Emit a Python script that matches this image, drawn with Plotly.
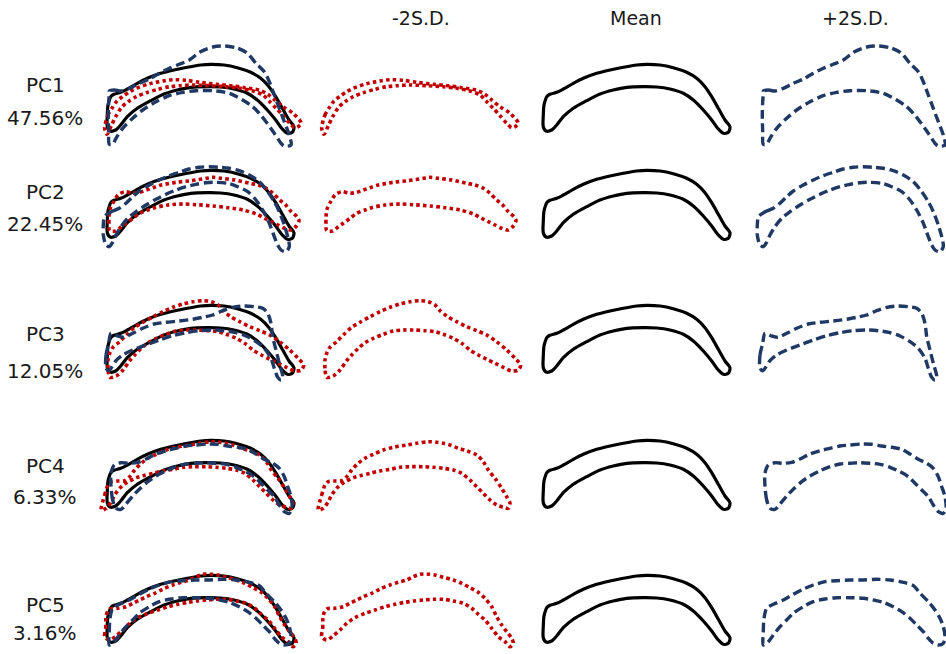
import plotly.graph_objects as go

# ---------------- data ----------------
ROW_LABELS = ["PC1", "PC2", "PC3", "PC4", "PC5"]
VARIANCE = ["47.56%", "22.45%", "12.05%", "6.33%", "3.16%"]
COL_TITLES = ["-2S.D.", "Mean", "+2S.D."]

# mean outline (local px units of a cell)
MEAN_X = [10.7, 14, 20.7, 27.3, 37.3, 47.3, 60.7, 74, 87.3, 100.7, 110.7, 124, 137.3, 150.7, 160.7, 169, 175.7, 182.3, 189, 194, 192.3,
          187.3, 182.3, 175.7, 167.3, 157.3, 147.3, 134, 120.7, 107.3, 90.7, 77.3, 64, 50.7, 37.3, 27.3, 20.7, 15.7, 10, 7.3, 7.3, 8, 10]
MEAN_Y = [41.7, 39.3, 37.3, 34, 28.3, 23.3, 18.3, 15, 12.3, 10, 9.3, 10, 12.7, 17.3, 23.3, 31.7, 41.7, 53.3, 65, 71.7, 77.3,
          78.3, 74, 65, 55, 45, 38.3, 34, 32, 31.7, 32.3, 35, 39, 45.7, 53.3, 61.7, 70, 75, 76, 71.7, 60, 50, 43.3]

PC1_MINUS_X = [4.7, 8, 12.3, 17, 23, 29.7, 36.3, 49.7, 64.7, 73, 86.3, 99.7, 116.3, 131.3, 144.7, 159.7, 168, 174.7, 183, 193, 201.3, 198,
               194.7, 189.7, 183, 176.3, 169.7, 163, 153, 139.7, 126.3, 109.7, 93, 80.3, 69.7, 58, 46.3, 36.3, 28, 21.3, 15.7, 11.3, 7]
PC1_MINUS_Y = [73.3, 60, 52.7, 46, 41.3, 36.7, 33.3, 28.7, 25.7, 24.7, 25.3, 27.3, 29.3, 30.7, 32.7, 35.3, 39.3, 45, 51.7, 58.3, 68.3, 71.7,
               72.7, 68.3, 60.7, 53.3, 46.7, 40, 36, 33.3, 31.7, 30.7, 30, 30.7, 31.7, 34.3, 37.7, 41.7, 46.7, 52.7, 61.7, 70.7, 79.3]
PC1_PLUS_X = [9.3, 14.3, 21, 29.3, 39.3, 49.3, 59.3, 69.3, 79.3, 89.3, 100, 113, 125, 137, 147, 156, 164.3, 169.3, 174.3, 179.3, 184.3, 189.3, 191,
              184, 181, 174.3, 166, 159.3, 152.7, 142.7, 129.3, 112.7, 96, 82.7, 69.3, 56, 42.7, 32.7, 22.7, 16, 12.7, 9.3, 8.7, 8.3, 8.7, 9.3]
PC1_PLUS_Y = [36, 35, 36, 33.3, 28.3, 24, 18.3, 13.3, 9.3, 5, -3, -8, -9, -7, -2, 8.3, 16.7, 26.7, 40, 53.3, 66.7, 80, 90,
              91, 88.3, 78.3, 66.7, 58.3, 51.7, 45, 38.3, 35.7, 35.7, 37.3, 40.7, 46.7, 55, 63.3, 73.3, 83.3, 89.3, 89.3, 76.7, 60, 46.7, 38.3]

PC2_MINUS_X = [9.7, 9, 9, 10.3, 13.7, 18, 24.7, 33, 39.7, 46.3, 53, 61.3, 76.3, 91.3, 106.3, 113, 121.3, 134.7, 149.7, 158, 166.3, 173, 179.7, 185.7, 191.3, 197, 199, 196.3, 191.3,
               184.7, 178, 171.3, 164.7, 156.3, 143, 128, 113, 96.3, 83, 68, 54.7, 48, 39.7, 33, 26.3, 21.3, 15.7]
PC2_MINUS_Y = [69.7, 62.3, 55.7, 47.3, 40.7, 34, 30.7, 32.3, 31.3, 29, 26.7, 24, 21.3, 19.7, 17.3, 16.3, 17.3, 19, 22.3, 24, 27.3, 32.3, 39, 44, 50.7, 55.7, 59.7, 65, 69,
               67.3, 64, 60.7, 57.3, 53, 49, 46.7, 45, 43.7, 43, 44, 46.7, 49, 52.3, 57.3, 62.3, 65.7, 70]
PC2_PLUS_X = [6, 12.7, 19.3, 26, 32.7, 39.3, 49.3, 59.3, 69.3, 79.3, 89.3, 99.3, 109.3, 119.3, 129.3, 139.3, 149.3, 159.3, 167.7, 174.3, 179.3, 184.3, 187.7, 189.3, 186, 181,
              177.7, 174.3, 169.3, 162.7, 156, 147.7, 137.7, 127.7, 116, 106, 96, 86, 76, 66, 56, 46, 36, 27.7, 21, 16, 12.7, 9.3, 6, 3.3, 3.3, 4.3]
PC2_PLUS_Y = [54, 50, 47.3, 42.3, 35.7, 30, 24, 19, 14.7, 11.3, 8, 6.3, 5.7, 6.3, 7.3, 9.7, 14, 20.7, 30.7, 40.7, 50.7, 64, 75.7, 85.7, 90.7, 89,
              84, 75.7, 62.3, 49, 39, 30.7, 25.7, 22.3, 21.3, 21.7, 23.3, 25.7, 29, 33.3, 38.3, 44, 50.7, 57.3, 65.7, 74, 81.3, 85.7, 84, 74, 64, 55.7]

PC3_MINUS_X = [9.7, 8, 8, 9.7, 13, 19.7, 26.3, 34.7, 43, 53, 63, 73, 83, 93, 103, 111.3, 118, 123, 129.7, 139.7, 149.7, 159.7, 169.7, 179.7, 189.7, 198, 203.7, 201.3, 194.7,
               186.3, 178, 169.7, 161.3, 153, 144.7, 136.3, 126.3, 118, 108, 96.3, 86.3, 76.3, 66.3, 56.3, 48, 41.3, 34.7, 29.7, 23, 16.3]
PC3_MINUS_Y = [81.3, 72.3, 64, 57.3, 51.3, 45.7, 39, 31.3, 26.3, 20.7, 15.7, 11.3, 8, 5.7, 4.7, 5.7, 9, 14.7, 20, 25.7, 30.7, 34.7, 39, 45.7, 54, 62.3, 69, 74, 75,
               71.3, 67.3, 63.3, 59, 54, 47.3, 42.3, 38.3, 35.7, 34.7, 34, 34, 35, 38.3, 42.3, 46.7, 52.3, 59, 64.7, 74, 80]
PC3_PLUS_X = [6, 6, 8.7, 11, 17.7, 24.3, 32.7, 42.7, 54.3, 66, 79.3, 92.7, 102.7, 112.7, 122.7, 132.7, 144.3, 154.3, 162.7, 167.7, 171, 172.7, 176, 179.3, 182.7, 181, 177.7,
              174.3, 171, 164.3, 156, 146, 136, 124.3, 112.7, 99.3, 86, 72.7, 59.3, 46, 32.7, 22.7, 16, 11, 8.7]
PC3_PLUS_Y = [72.3, 59, 47.3, 37.3, 40, 41.3, 37.3, 32.3, 28, 26.3, 25, 23.3, 21.3, 19, 14.7, 11.3, 10, 10.7, 12.3, 17.3, 27.3, 40.7, 54, 67.3, 80.7, 84, 81.3,
              72.3, 62.3, 52.3, 45.7, 40, 36.7, 34.7, 34, 34.7, 36.7, 39.7, 44, 49, 54, 59, 64.7, 72.3, 74.7]

PC4_MINUS_X = [1.3, 4.7, 8, 11.3, 18, 24.7, 29.7, 34.7, 41.3, 48, 56.3, 66.3, 76.3, 89.7, 99.7, 111.3, 119.7, 126.3, 133, 141.3, 149.7, 159.7, 166.3, 171.3, 178, 184.7, 189.7, 193, 191.3, 186.3,
               179.7, 173, 166.3, 159.7, 153, 144.7, 136.3, 126.3, 116.3, 106.3, 93, 83, 73, 63, 53, 43, 36.3, 29.7, 24.7, 19.7, 14.7, 11.3, 6.3]
PC4_MINUS_Y = [79, 64, 54, 50.7, 50, 49.7, 45.7, 39, 32.3, 27.3, 23.3, 19, 16.3, 14, 12.3, 10.7, 11.3, 12.3, 14, 17.3, 19.7, 24, 30.7, 39, 47.3, 57.3, 65.7, 72.3, 77.3, 76.3,
               74, 69, 62.3, 55.7, 49, 42.3, 39, 37.3, 36.3, 35.7, 35.7, 36.3, 38.3, 40, 42.3, 44.7, 46.7, 50, 53, 57.3, 64, 70.7, 77.3]
PC4_PLUS_X = [16, 12.7, 11, 11, 14.3, 21, 29.3, 37.7, 46, 56, 66, 76, 86, 96, 107.7, 117.7, 127.7, 137.7, 147.7, 156, 164.3, 172.7, 179.3, 184.3, 187.7, 191, 192, 189.3, 184.3,
              179.3, 174.3, 167.7, 161, 154.3, 146, 136, 126, 116, 106, 96, 86, 76, 66, 56, 47.7, 39.3, 32.7, 26, 21]
PC4_PLUS_Y = [77.3, 69, 55.7, 42.3, 34, 31.7, 32.3, 31.3, 28, 23, 19.7, 17.3, 15, 14, 13, 13.3, 15, 16.3, 18.3, 23, 28.3, 32.3, 37.3, 45.7, 55.7, 65.7, 77.3, 82.3, 80.7,
              74, 65.7, 59, 52.3, 45.7, 40.7, 36.3, 33.3, 32.3, 31.7, 32.3, 33, 35.7, 39.7, 45, 50.7, 58.3, 65, 73, 78.3]

PC5_MINUS_X = [4.7, 5.7, 6.3, 9.7, 18, 26.3, 33, 39.7, 46.3, 54.7, 63, 73, 81.3, 89.7, 96.3, 103, 109.7, 118, 126.3, 136.3, 144.7, 153, 161.3, 168, 174.7, 179.7, 184.7, 189.7, 194.7, 196.3, 193,
               188, 181.3, 174.7, 168, 161.3, 154.7, 146.3, 136.3, 126.3, 116.3, 106.3, 96.3, 88, 78, 68, 58, 48, 38, 29.7, 23, 16.3, 9.7]
PC5_MINUS_Y = [70.7, 62.3, 49, 43, 42.3, 40.7, 37.3, 34, 30.7, 27.3, 23, 19, 16.3, 14, 10.7, 8.3, 8, 9, 11.3, 14, 17.3, 21.7, 26.3, 32.3, 40.7, 50.7, 59, 65.7, 72.3, 77.3, 80.7,
               75.7, 70.7, 62.3, 54, 48.3, 42.3, 37.3, 35, 33.3, 33.3, 34, 35, 36.3, 38.3, 40.7, 44, 47.3, 51.7, 57.3, 64, 69.7, 74]
PC5_PLUS_X = [9.3, 9.3, 10, 12.7, 19.3, 29.3, 39.3, 49.3, 59.3, 71, 82.7, 96, 109.3, 122.7, 136, 149.3, 159.3, 166, 174.3, 181, 186, 189.3, 191, 189.3, 184.3, 179.3,
              174.3, 169.3, 162.7, 156, 147.7, 139.3, 129.3, 119.3, 109.3, 96, 82.7, 71, 59.3, 49.3, 39.3, 32.7, 26, 19.3, 14.3]
PC5_PLUS_Y = [79, 65.7, 52.3, 42.3, 38.3, 34, 28.3, 23, 19, 15.7, 14.7, 14, 14, 13.3, 14, 16.3, 19.7, 27.3, 35.7, 44, 52.3, 60.7, 70.7, 77.3, 79, 77.3,
              72.3, 65.7, 59, 52.3, 45.7, 40.7, 36.3, 34, 32.3, 31.7, 31.7, 33, 35.7, 40.7, 47.3, 54, 60.7, 69, 75.7]

MINUS_SHAPES = [(PC1_MINUS_X, PC1_MINUS_Y), (PC2_MINUS_X, PC2_MINUS_Y), (PC3_MINUS_X, PC3_MINUS_Y),
                (PC4_MINUS_X, PC4_MINUS_Y), (PC5_MINUS_X, PC5_MINUS_Y)]
PLUS_SHAPES = [(PC1_PLUS_X, PC1_PLUS_Y), (PC2_PLUS_X, PC2_PLUS_Y), (PC3_PLUS_X, PC3_PLUS_Y),
               (PC4_PLUS_X, PC4_PLUS_Y), (PC5_PLUS_X, PC5_PLUS_Y)]

# ---------------- layout geometry ----------------
W, H = 946, 654
COL_X0 = [100, 317, 536, 754]
ROW_Y0 = [55, 161, 296, 431, 566]
XMIN, XMAX = -6, 212
YMIN, YMAX = -14, 96
LABEL_Y = [(85, 118), (192, 224), (334, 371), (466, 497), (605, 633)]
HEADER_X = [421, 636, 855]
HEADER_Y = 18

RED = "#C00000"
NAVY = "#1F3864"
BLACK = "#000000"
TEXT = "#1a1a1a"
FONT = "DejaVu Sans"


def closed(xs, ys):
    return list(xs) + [xs[0]], list(ys) + [ys[0]]


fig = go.Figure()
layout_axes = {}
ax = 0
for r in range(5):
    for c in range(4):
        ax += 1
        xname = "x" if ax == 1 else f"x{ax}"
        yname = "y" if ax == 1 else f"y{ax}"
        x0, y0 = COL_X0[c], ROW_Y0[r]
        xmax = min(XMAX, W - x0)
        ymax = min(YMAX, H - y0)
        dx = [(x0 + XMIN) / W, (x0 + xmax) / W]
        dy = [1 - (y0 + ymax) / H, 1 - (y0 + YMIN) / H]
        layout_axes["xaxis" if ax == 1 else f"xaxis{ax}"] = dict(
            domain=dx, range=[XMIN, xmax], visible=False, anchor=yname, fixedrange=True)
        layout_axes["yaxis" if ax == 1 else f"yaxis{ax}"] = dict(
            domain=dy, range=[ymax, YMIN], visible=False, anchor=xname, fixedrange=True)

        items = []
        if c in (0, 2):
            items.append((MEAN_X, MEAN_Y, dict(color=BLACK, width=3.2)))
        if c in (0, 1):
            mx, my = MINUS_SHAPES[r]
            items.append((mx, my, dict(color=RED, width=3.6, dash="3.5px,3.2px")))
        if c in (0, 3):
            px, py = PLUS_SHAPES[r]
            items.append((px, py, dict(color=NAVY, width=3.4, dash="9px,4.5px")))
        for xs, ys, ln in items:
            cx, cy = closed(xs, ys)
            fig.add_trace(go.Scatter(
                x=cx, y=cy, mode="lines", xaxis=xname, yaxis=yname,
                line=dict(shape="spline", smoothing=0.8, **ln),
                hoverinfo="skip", showlegend=False))

annotations = []
for r in range(5):
    for txt, yy in zip((ROW_LABELS[r], VARIANCE[r]), LABEL_Y[r]):
        annotations.append(dict(text=txt, x=45 / W, y=1 - yy / H, xref="paper", yref="paper",
                                showarrow=False, xanchor="center", yanchor="middle",
                                font=dict(family=FONT, size=20, color=TEXT)))
for txt, hx in zip(COL_TITLES, HEADER_X):
    annotations.append(dict(text=txt, x=hx / W, y=1 - HEADER_Y / H, xref="paper", yref="paper",
                            showarrow=False, xanchor="center", yanchor="middle",
                            font=dict(family=FONT, size=19, color=TEXT)))

fig.update_layout(width=W, height=H, autosize=False, margin=dict(l=0, r=0, t=0, b=0),
                  paper_bgcolor="white", plot_bgcolor="rgba(0,0,0,0)",
                  annotations=annotations, **layout_axes)

fig.write_html("out.html",
               config={"displayModeBar": False, "staticPlot": True},
               post_script="document.documentElement.style.margin='0';"
                           "document.body.style.margin='0';"
                           "document.body.style.overflow='hidden';")
